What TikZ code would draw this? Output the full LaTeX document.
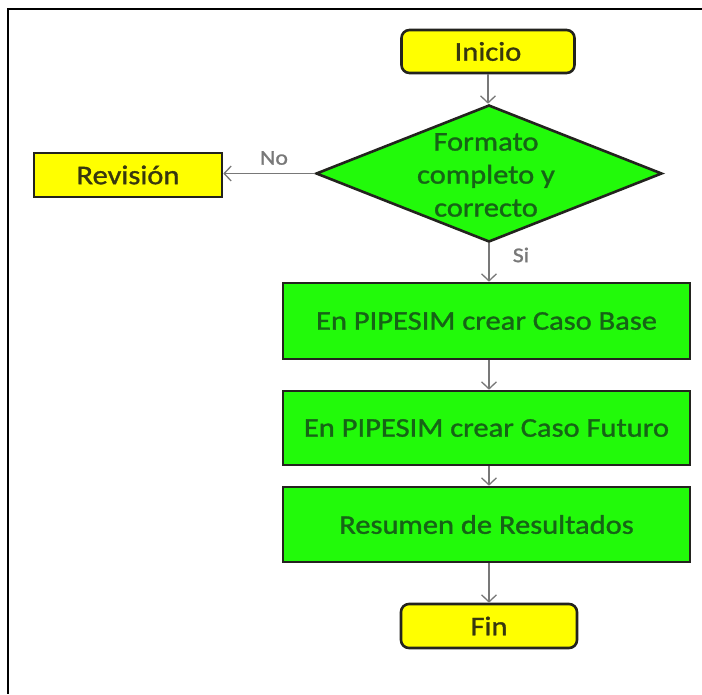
\documentclass[tikz,border=0pt]{standalone}
\usepackage{fontspec}
\setmainfont[FakeStretch=1.13,FakeBold=1.2]{Carlito}
\usetikzlibrary{shapes.geometric,arrows.meta}

\definecolor{boxyellow}{RGB}{255,255,0}
\definecolor{boxgreen}{RGB}{34,250,10}
\definecolor{edgeline}{RGB}{35,35,30}
\definecolor{ontxtyellow}{RGB}{55,55,15}
\definecolor{ontxtgreen}{RGB}{22,100,22}
\definecolor{flowgray}{RGB}{120,120,120}

\tikzset{
  terminal/.style={draw=edgeline, line width=2.6pt, fill=boxyellow, rounded corners=8pt,
    text=ontxtyellow, font=\fontsize{27}{33}\selectfont, inner sep=0pt},
  yellowbox/.style={draw=edgeline, line width=2.6pt, fill=boxyellow,
    text=ontxtyellow, font=\fontsize{27}{33}\selectfont, inner sep=0pt},
  process/.style={draw=edgeline, line width=2.6pt, fill=boxgreen,
    text=ontxtgreen, font=\fontsize{27}{33}\selectfont, inner sep=0pt,
    minimum width=407pt},
  decision/.style={diamond, draw=edgeline, line width=2.6pt, fill=boxgreen, inner sep=0pt,
    minimum width=346pt, minimum height=137pt},
  dectext/.style={align=center, text=ontxtgreen, font=\fontsize{27}{33}\selectfont, inner sep=0pt},
  flow/.style={draw=flowgray, line width=1.3pt, -{Straight Barb[length=7pt,width=15pt,line width=1.3pt]}},
  flowlabel/.style={text=flowgray, font=\fontsize{21}{24}\selectfont, inner sep=0pt}
}

\begin{document}
\begin{tikzpicture}[x=1pt,y=-1pt]
  \useasboundingbox (0,0) rectangle (702,694);
  \fill[white] (0,0) rectangle (702,694);

  % frame (top and left rules)
  \draw[black, line width=2.6pt] (702,9) -- (8,9) -- (8,694);

  % nodes
  \node[terminal, minimum width=173pt, minimum height=43pt] (inicio) at (488,51.5) {Inicio};
  \node[decision] (dec) at (489,173.5) {};
  \node[dectext] (dectxt) at (486,175) {Formato\\completo y\\correcto};
  \node[yellowbox, minimum width=188pt, minimum height=44pt] (rev) at (128,175) {Revisión};
  \node[process, minimum height=76pt] (base) at (486.5,321) {En PIPESIM crear Caso Base};
  \node[process, minimum height=74pt] (futuro) at (486.5,428) {En PIPESIM crear Caso Futuro};
  \node[process, minimum height=75pt] (resumen) at (486.5,524.5) {Resumen de Resultados};
  \node[terminal, minimum width=176pt, minimum height=44pt] (fin) at (489,626) {Fin};

  % connectors
  \draw[flow] (inicio.south) -- (inicio.south |- dec.north);
  \draw[flow] (dec.west) -- (rev.east |- dec.west);
  \draw[flow] (dec.south) -- (dec.south |- base.north);
  \draw[flow] (base.south -| dec.south) -- (futuro.north -| dec.south);
  \draw[flow] (futuro.south -| dec.south) -- (resumen.north -| dec.south);
  \draw[flow] (resumen.south -| dec.south) -- (fin.north -| dec.south);

  % branch labels
  \node[flowlabel] (lno) at (274,158) {No};
  \node[flowlabel] (lsi) at (521,255) {Si};
\end{tikzpicture}
\end{document}
